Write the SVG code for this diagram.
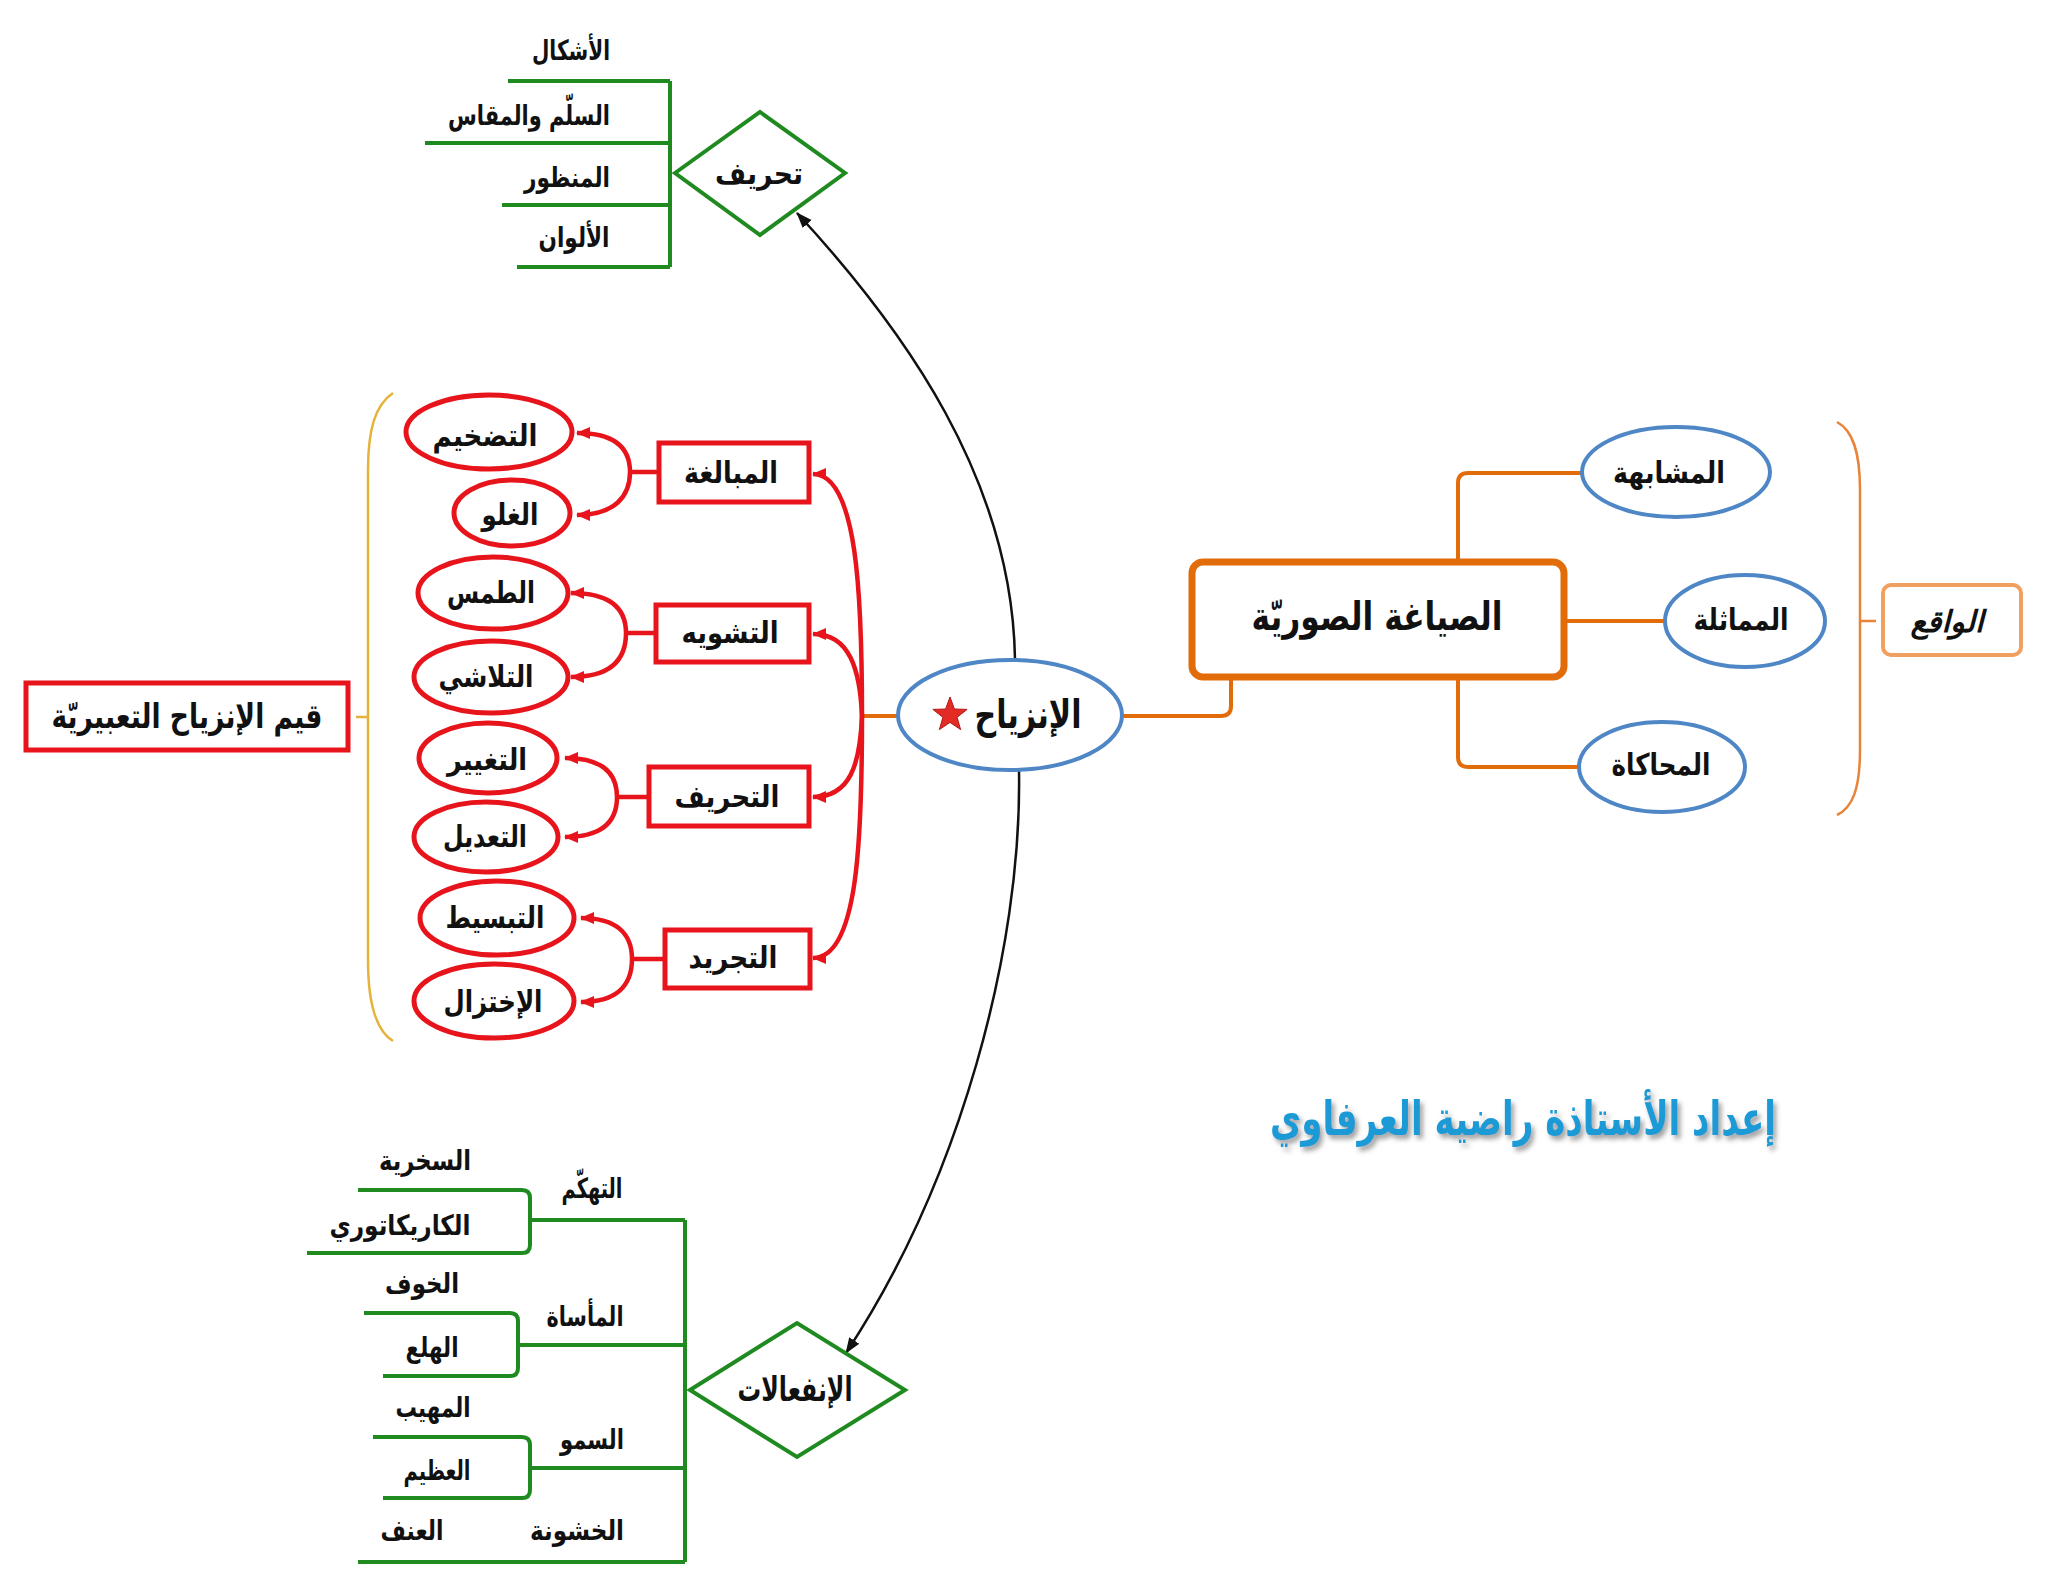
<svg xmlns="http://www.w3.org/2000/svg" width="2048" height="1588" viewBox="0 0 2048 1588">
<style>
text{font-family:"DejaVu Sans",sans-serif;font-weight:bold;fill:#111;text-anchor:middle;dominant-baseline:central}
.g{fill:none;stroke:#1f8a1f;stroke-width:4}
.gd{fill:#fff;stroke:#1f8a1f;stroke-width:4}
.r{fill:none;stroke:#e8141c;stroke-width:4.5}
.rs{fill:#fff;stroke:#e8141c;stroke-width:5}
.bl{fill:#fff;stroke:#4f86c6;stroke-width:4}
.o{fill:none;stroke:#e36c0a;stroke-width:4}
.ob{fill:none;stroke:#e8843a;stroke-width:2.5}
.y{fill:none;stroke:#e6b33a;stroke-width:2.5}
.k{fill:none;stroke:#111;stroke-width:2.5}
.t26{font-size:28px}.t28{font-size:30px}.t32{font-size:34px}.t36{font-size:39px}
</style>
<defs>
<marker id="ra" markerUnits="userSpaceOnUse" markerWidth="14" markerHeight="14" refX="13" refY="7" orient="auto"><path d="M0,1 L14,7 L0,13 z" fill="#e8141c"/></marker>
<marker id="ka" markerUnits="userSpaceOnUse" markerWidth="16" markerHeight="14" refX="15" refY="7" orient="auto"><path d="M0,1 L16,7 L0,13 z" fill="#111"/></marker>
<filter id="sh" x="-5%" y="-20%" width="110%" height="150%"><feDropShadow dx="3" dy="4" stdDeviation="2.5" flood-color="#777" flood-opacity="0.7"/></filter>
</defs>
<rect width="2048" height="1588" fill="#fff"/>

<g id="connectors">
<path class="g" d="M670,81 V267 M508,81 H670 M425,143 H670 M502,205 H670 M517,267 H670"/>
<path class="g" d="M685,1220 V1562 M530,1220 H685 M518,1345 H685 M530,1468 H685 M358,1562 H685"/>
<path class="g" d="M358,1190 H522 Q530,1190 530,1198 V1245 Q530,1253 522,1253 H307"/>
<path class="g" d="M364,1313 H510 Q518,1313 518,1321 V1368 Q518,1376 510,1376 H383"/>
<path class="g" d="M373,1437 H522 Q530,1437 530,1445 V1490 Q530,1498 522,1498 H383"/>
<path class="k" marker-end="url(#ka)" d="M1015,659 C1012,480 905,330 797,213"/>
<path class="k" marker-end="url(#ka)" d="M1019,771 C1022,950 960,1180 846,1353"/>
<path class="o" d="M898,716 H862"/>
<path class="o" d="M1123,716 H1221 Q1231,716 1231,706 V677"/>
<path class="o" d="M1458,562 V483 Q1458,473 1468,473 H1582"/>
<path class="o" d="M1458,677 V757 Q1458,767 1468,767 H1579"/>
<path class="o" d="M1564,621 H1664"/>
<path class="ob" d="M1837,422 C1852,430 1860,450 1860,490 V750 C1860,790 1852,808 1837,815 M1860,621 H1876"/>
<path class="y" d="M393,393 C375,405 368,430 368,470 V960 C368,1000 375,1030 393,1041 M368,717 H356"/>
<path class="r" marker-end="url(#ra)" d="M862,716 C862,600 858,474 813,474"/>
<path class="r" marker-end="url(#ra)" d="M862,716 C860,670 850,634 813,634"/>
<path class="r" marker-end="url(#ra)" d="M862,716 C860,765 850,797 813,797"/>
<path class="r" marker-end="url(#ra)" d="M862,716 C862,840 858,958 813,958"/>
<path class="r" d="M659,472 H630 M656,633 H626 M649,797 H617 M665,959 H632"/>
<path class="r" marker-end="url(#ra)" d="M630,472 C630,448 615,433 577,433"/>
<path class="r" marker-end="url(#ra)" d="M630,472 C630,496 615,515 577,515"/>
<path class="r" marker-end="url(#ra)" d="M626,633 C626,608 610,593 571,593"/>
<path class="r" marker-end="url(#ra)" d="M626,633 C626,660 610,677 571,677"/>
<path class="r" marker-end="url(#ra)" d="M617,797 C617,773 602,758 565,758"/>
<path class="r" marker-end="url(#ra)" d="M617,797 C617,822 602,837 565,837"/>
<path class="r" marker-end="url(#ra)" d="M632,959 C632,934 617,918 581,918"/>
<path class="r" marker-end="url(#ra)" d="M632,959 C632,985 617,1002 581,1002"/>
</g>

<g id="n-ashkal"><text class="t26" x="571" y="50" textLength="78" lengthAdjust="spacingAndGlyphs">الأشكال</text></g>
<g id="n-sullam"><text class="t26" x="529" y="115" textLength="162" lengthAdjust="spacingAndGlyphs">السلّم والمقاس</text></g>
<g id="n-manzur"><text class="t26" x="567" y="177" textLength="86" lengthAdjust="spacingAndGlyphs">المنظور</text></g>
<g id="n-alwan"><text class="t26" x="574" y="237" textLength="71" lengthAdjust="spacingAndGlyphs">الألوان</text></g>
<g id="n-tahrif"><polygon class="gd" points="675,173 760,112 845,173 760,235"/><text class="t28" x="759" y="173" textLength="88" lengthAdjust="spacingAndGlyphs">تحريف</text></g>

<g id="n-tadkhim"><ellipse class="rs" cx="489" cy="432" rx="83" ry="37"/><text class="t28" x="485" y="435" textLength="105" lengthAdjust="spacingAndGlyphs">التضخيم</text></g>
<g id="n-ghulu"><ellipse class="rs" cx="512" cy="513" rx="58" ry="33"/><text class="t28" x="510" y="514" textLength="57" lengthAdjust="spacingAndGlyphs">الغلو</text></g>
<g id="n-tams"><ellipse class="rs" cx="493" cy="593" rx="75" ry="36"/><text class="t28" x="491" y="592" textLength="88" lengthAdjust="spacingAndGlyphs">الطمس</text></g>
<g id="n-talashi"><ellipse class="rs" cx="491" cy="677" rx="77" ry="36"/><text class="t28" x="486" y="676" textLength="95" lengthAdjust="spacingAndGlyphs">التلاشي</text></g>
<g id="n-taghyir"><ellipse class="rs" cx="488" cy="758" rx="69" ry="35"/><text class="t28" x="487" y="759" textLength="80" lengthAdjust="spacingAndGlyphs">التغيير</text></g>
<g id="n-tadil"><ellipse class="rs" cx="486" cy="837" rx="72" ry="35"/><text class="t28" x="485" y="836" textLength="84" lengthAdjust="spacingAndGlyphs">التعديل</text></g>
<g id="n-tabsit"><ellipse class="rs" cx="497" cy="918" rx="77" ry="37"/><text class="t28" x="495" y="917" textLength="99" lengthAdjust="spacingAndGlyphs">التبسيط</text></g>
<g id="n-ikhtizal"><ellipse class="rs" cx="494" cy="1001" rx="80" ry="37"/><text class="t28" x="493" y="1001" textLength="99" lengthAdjust="spacingAndGlyphs">الإختزال</text></g>

<g id="n-mubalagha"><rect class="rs" x="659" y="443" width="150" height="59"/><text class="t28" x="731" y="472" textLength="94" lengthAdjust="spacingAndGlyphs">المبالغة</text></g>
<g id="n-tashwih"><rect class="rs" x="656" y="605" width="153" height="57"/><text class="t28" x="730" y="632" textLength="97" lengthAdjust="spacingAndGlyphs">التشويه</text></g>
<g id="n-tahrif2"><rect class="rs" x="649" y="767" width="160" height="59"/><text class="t28" x="727" y="796" textLength="105" lengthAdjust="spacingAndGlyphs">التحريف</text></g>
<g id="n-tajrid"><rect class="rs" x="665" y="930" width="145" height="58"/><text class="t28" x="733" y="957" textLength="89" lengthAdjust="spacingAndGlyphs">التجريد</text></g>
<g id="n-qiyam"><rect class="rs" x="26" y="683" width="322" height="67"/><text class="t32" x="187" y="716" textLength="271" lengthAdjust="spacingAndGlyphs">قيم الإنزياح التعبيريّة</text></g>

<g id="n-inziyah"><ellipse class="bl" cx="1010" cy="715" rx="112" ry="55"/>
<path d="M950,697 L954.4,709 L967.1,709.4 L957.1,717.3 L960.6,729.6 L950,722.4 L939.4,729.6 L942.9,717.3 L932.9,709.4 L945.6,709 Z" fill="#e32b25" stroke="#b01818" stroke-width="1"/>
<text class="t36" x="1028" y="714" textLength="107" lengthAdjust="spacingAndGlyphs">الإنزياح</text></g>
<g id="n-siyagha"><rect x="1192" y="562" width="372" height="115" rx="11" fill="#fff" stroke="#e36c0a" stroke-width="7"/><text class="t36" x="1377" y="616" textLength="251" lengthAdjust="spacingAndGlyphs">الصياغة الصوريّة</text></g>
<g id="n-mushabaha"><ellipse class="bl" cx="1676" cy="472" rx="94" ry="45"/><text class="t28" x="1669" y="472" textLength="112" lengthAdjust="spacingAndGlyphs">المشابهة</text></g>
<g id="n-mumathala"><ellipse class="bl" cx="1745" cy="621" rx="80" ry="46"/><text class="t28" x="1741" y="619" textLength="95" lengthAdjust="spacingAndGlyphs">المماثلة</text></g>
<g id="n-muhakat"><ellipse class="bl" cx="1662" cy="767" rx="83" ry="45"/><text class="t28" x="1661" y="764" textLength="99" lengthAdjust="spacingAndGlyphs">المحاكاة</text></g>
<g id="n-waqi"><rect x="1883" y="585" width="138" height="70" rx="8" fill="#fff" stroke="#f0a060" stroke-width="4"/><text class="t28" x="1947" y="621" font-style="italic" textLength="73" lengthAdjust="spacingAndGlyphs">الواقع</text></g>

<g id="n-infiaalat"><polygon class="gd" points="690,1390 797,1323 905,1390 797,1457"/><text class="t32" x="795" y="1389" textLength="115" lengthAdjust="spacingAndGlyphs">الإنفعالات</text></g>
<g id="n-sukhriya"><text class="t26" x="425" y="1160" textLength="92" lengthAdjust="spacingAndGlyphs">السخرية</text></g>
<g id="n-karikaturi"><text class="t26" x="400" y="1225" textLength="141" lengthAdjust="spacingAndGlyphs">الكاريكاتوري</text></g>
<g id="n-tahakkum"><text class="t26" x="592" y="1188" textLength="61" lengthAdjust="spacingAndGlyphs">التهكّم</text></g>
<g id="n-khawf"><text class="t26" x="422" y="1283" textLength="74" lengthAdjust="spacingAndGlyphs">الخوف</text></g>
<g id="n-masat"><text class="t26" x="585" y="1316" textLength="77" lengthAdjust="spacingAndGlyphs">المأساة</text></g>
<g id="n-halaa"><text class="t26" x="432" y="1347" textLength="53" lengthAdjust="spacingAndGlyphs">الهلع</text></g>
<g id="n-mahib"><text class="t26" x="433" y="1407" textLength="75" lengthAdjust="spacingAndGlyphs">المهيب</text></g>
<g id="n-sumu"><text class="t26" x="592" y="1439" textLength="64" lengthAdjust="spacingAndGlyphs">السمو</text></g>
<g id="n-azim"><text class="t26" x="437" y="1470" textLength="67" lengthAdjust="spacingAndGlyphs">العظيم</text></g>
<g id="n-unf"><text class="t26" x="412" y="1530" textLength="63" lengthAdjust="spacingAndGlyphs">العنف</text></g>
<g id="n-khushuna"><text class="t26" x="577" y="1530" textLength="94" lengthAdjust="spacingAndGlyphs">الخشونة</text></g>

<g id="credit"><text x="1523" y="1118" font-size="48" textLength="506" lengthAdjust="spacingAndGlyphs" style="fill:#1b9ad6" filter="url(#sh)">إعداد الأستاذة راضية العرفاوي</text></g>
</svg>
